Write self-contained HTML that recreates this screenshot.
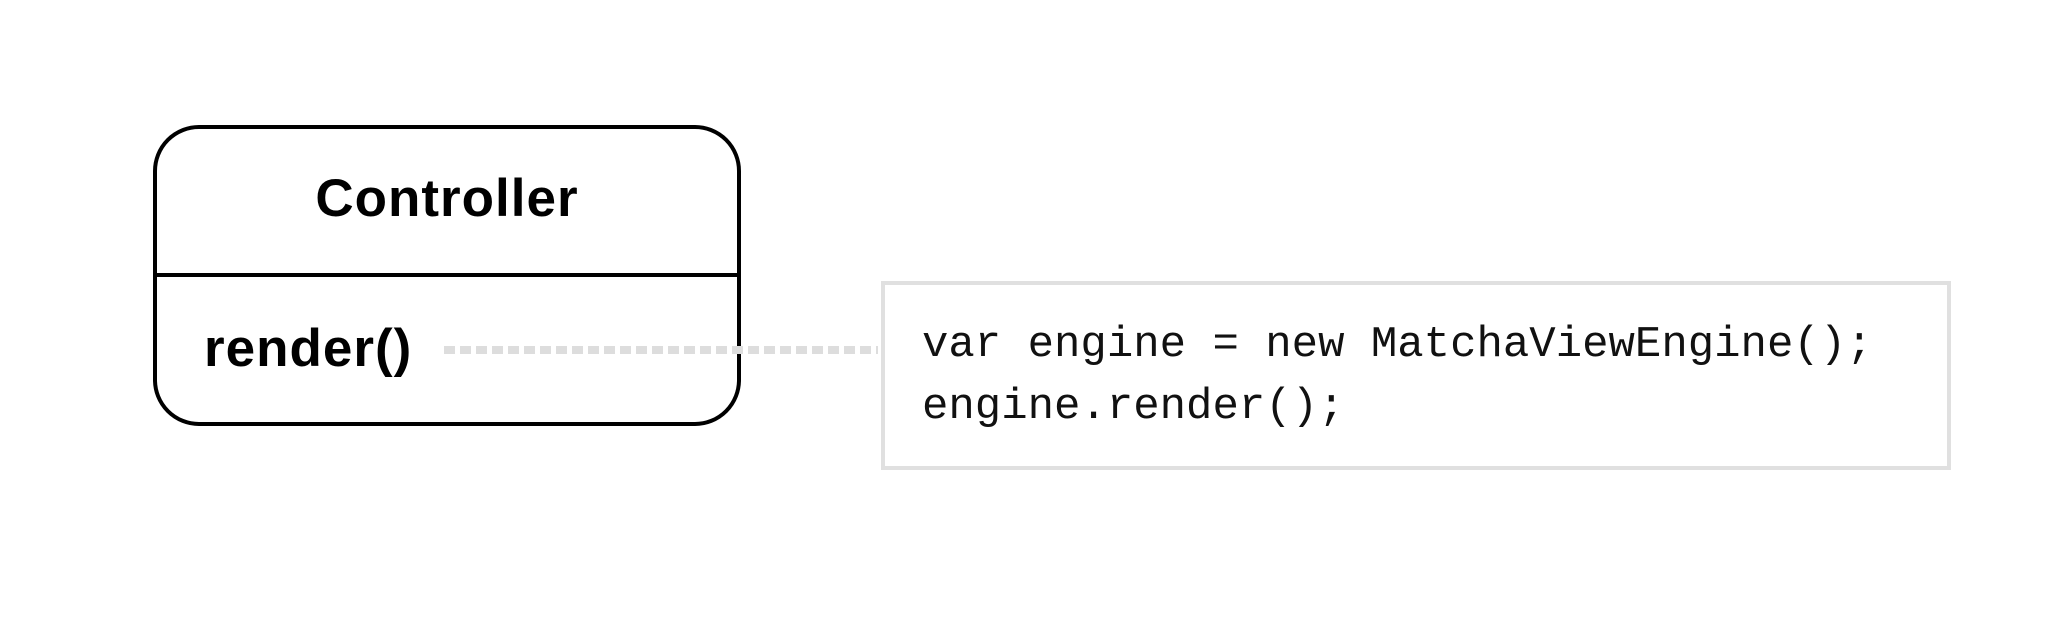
<!DOCTYPE html>
<html><head><meta charset="utf-8"><style>
html,body{margin:0;padding:0;background:#fff;}
body{width:2046px;height:640px;position:relative;overflow:hidden;}
.box{position:absolute;left:153px;top:125px;width:588px;height:301px;box-sizing:border-box;border:4px solid #000;border-radius:46px;}
.div{position:absolute;left:153px;top:273px;width:588px;height:4px;background:#000;}
.title{position:absolute;left:153px;width:588px;top:168px;text-align:center;font:bold 53px "Liberation Sans",sans-serif;letter-spacing:1px;}
.meth{position:absolute;left:204px;top:318px;font:bold 53px "Liberation Sans",sans-serif;letter-spacing:1px;}
.dots{position:absolute;left:444px;top:346px;width:434px;height:8px;background:repeating-linear-gradient(90deg,#ddd 0 11px,transparent 11px 16px);}
.code{position:absolute;left:881px;top:281px;width:1070px;height:189px;box-sizing:border-box;border:4px solid #e0e0e0;}
.txt{position:absolute;left:922px;top:314px;font:44px/62px "Liberation Mono",monospace;color:#111;white-space:pre;}
</style></head><body>
<div class="box"></div>
<div class="div"></div>
<div class="title">Controller</div>
<div class="meth">render()</div>
<div class="dots"></div>
<div class="code"></div>
<div class="txt">var engine = new MatchaViewEngine();
engine.render();</div>
</body></html>
